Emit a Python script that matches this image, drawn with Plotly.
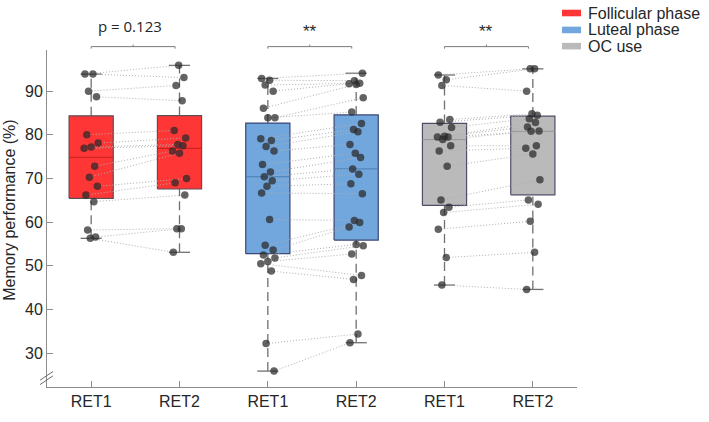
import numpy as np
import plotly.graph_objects as go

# ── Data (memory performance %, paired RET1 / RET2 per participant) ──────────
GROUPS = ["Follicular phase", "Luteal phase", "OC use"]
TICK_LABELS = ["RET1", "RET2", "RET1", "RET2", "RET1", "RET2"]

fol_ret1 = [93.9, 93.9, 90.0, 88.7, 80.0, 78.1, 77.2, 76.9, 72.8, 70.3, 68.2, 66.2,
            64.7, 58.2, 56.6, 56.3]
fol_ret2 = [95.9, 93.1, 91.3, 87.8, 81.0, 79.3, 77.8, 77.5, 76.3, 75.8, 70.0, 69.0,
            66.2, 58.5, 58.5, 53.1]
lut_ret1 = [92.9, 92.5, 91.4, 90.0, 86.1, 83.9, 83.9, 79.1, 78.7, 77.3, 76.3, 73.2,
            71.5, 70.4, 69.5, 68.2, 66.7, 60.6, 54.7, 53.6, 52.5, 51.8, 51.0, 50.5,
            48.8, 32.2, 25.9]
lut_ret2 = [94.1, 92.4, 91.8, 91.7, 91.5, 88.5, 85.2, 82.6, 81.2, 80.7, 77.8, 75.8,
            74.8, 72.2, 71.0, 68.8, 66.5, 60.4, 59.9, 58.9, 54.9, 54.6, 52.7, 47.8,
            46.9, 34.4, 32.4]
oc_ret1 = [93.7, 92.6, 91.3, 83.5, 82.9, 81.7, 79.7, 79.5, 79.5, 78.9, 77.5, 76.3,
           72.8, 65.1, 63.4, 62.2, 58.4, 51.9, 45.6]
oc_ret2 = [95.1, 95.1, 90.0, 84.8, 84.5, 83.7, 82.8, 81.8, 80.9, 80.8, 77.5, 76.9,
           75.6, 69.7, 65.1, 64.1, 60.2, 53.1, 44.6]

SIG_LABELS = ["p = 0.123", "**", "**"]

# ── Styling ───────────────────────────────────────────────────────────────────
FILL    = ["#FF3636", "#72A7DD", "#BABABA"]
EDGE    = ["#5C4F55", "#3A4675", "#4D4D68"]
MEDIAN  = ["#C81E1E", "#4C7DB4", "#969696"]
AXIS    = "#8C8C8C"
TEXT    = "#262626"
FONT    = "Liberation Sans, Arial, sans-serif"
HALF_W  = 0.25
CAP_W   = 0.12
JITTER  = [-0.07, 0.02, -0.03, 0.06, -0.05, 0.08, 0.0, -0.08, 0.04, -0.02, 0.07,
           -0.06, 0.03, -0.04, 0.05, -0.01]

L, R, T, B = 47, 132, 50, 24
W, H = 709, 422


def px_x(px):
    """page pixel -> paper x"""
    return (px - L) / (W - L - R)


def px_y(py):
    """page pixel -> paper y"""
    return (H - B - py) / (H - T - B)


def stats(vals):
    v = np.asarray(vals)
    q1, med, q3 = np.percentile(v, [25, 50, 75], method="hazen")
    iqr = q3 - q1
    lo = v[v >= q1 - 1.5 * iqr].min()
    hi = v[v <= q3 + 1.5 * iqr].max()
    return q1, med, q3, lo, hi


def jitter(n):
    return [JITTER[i % len(JITTER)] for i in range(n)]


series = [(fol_ret1, fol_ret2), (lut_ret1, lut_ret2), (oc_ret1, oc_ret2)]

fig = go.Figure()

# ── Boxes + whiskers ──────────────────────────────────────────────────────────
for g, pair in enumerate(series):
    for k, vals in enumerate(pair):
        c = 1 + 2 * g + k
        q1, med, q3, lo, hi = stats(vals)
        # dashed whiskers
        for a, b in [(q3, hi), (lo, q1)]:
            fig.add_trace(go.Scatter(
                x=[c, c], y=[a, b], mode="lines",
                line=dict(color="#707070", width=1.3, dash="9px,5px"),
                hoverinfo="skip", showlegend=False,
            ))
        # caps
        for yv in (lo, hi):
            fig.add_trace(go.Scatter(
                x=[c - CAP_W, c + CAP_W], y=[yv, yv], mode="lines",
                line=dict(color="#707070", width=1.3),
                hoverinfo="skip", showlegend=False,
            ))
        # box
        fig.add_trace(go.Scatter(
            x=[c - HALF_W, c + HALF_W, c + HALF_W, c - HALF_W, c - HALF_W],
            y=[q1, q1, q3, q3, q1],
            mode="lines", fill="toself", fillcolor=FILL[g],
            line=dict(color=EDGE[g], width=1.2),
            hoverinfo="skip", showlegend=False,
        ))
        fig.add_trace(go.Scatter(
            x=[c - HALF_W, c + HALF_W], y=[med, med], mode="lines",
            line=dict(color=MEDIAN[g], width=1),
            hoverinfo="skip", showlegend=False,
        ))

# ── Paired dotted lines + points ─────────────────────────────────────────────
for g, (r1, r2) in enumerate(series):
    c1, c2 = 1 + 2 * g, 2 + 2 * g
    j1 = jitter(len(r1))
    j2 = jitter(len(r2))[::-1]
    lx, ly = [], []
    for i in range(len(r1)):
        lx += [c1 + j1[i], c2 + j2[i], None]
        ly += [r1[i], r2[i], None]
    fig.add_trace(go.Scatter(
        x=lx, y=ly, mode="lines",
        line=dict(color="#AFAFAF", width=1, dash="1px,2px"),
        hoverinfo="skip", showlegend=False,
    ))
    fig.add_trace(go.Scatter(
        x=[c1 + d for d in j1] + [c2 + d for d in j2], y=r1 + r2,
        mode="markers",
        marker=dict(color="rgba(40,40,40,0.72)", size=7.5, line=dict(width=0)),
        showlegend=False,
    ))

# ── Significance brackets ────────────────────────────────────────────────────
shapes = []
annotations = []
yb = px_y(46.5)
for g, lab in enumerate(SIG_LABELS):
    c1, c2 = 1 + 2 * g, 1.95 + 2 * g
    line = dict(color="#7A7A7A", width=1)
    shapes.append(dict(type="line", xref="x", yref="paper", x0=c1, x1=c2,
                       y0=yb, y1=yb, line=line))
    for xe in (c1, c2):
        shapes.append(dict(type="line", xref="x", yref="paper", x0=xe, x1=xe,
                           y0=yb, y1=yb - 0.006, line=line))
    xm = (c1 + c2) / 2
    shapes.append(dict(type="line", xref="x", yref="paper", x0=xm, x1=xm,
                       y0=yb, y1=yb + 0.006, line=line))
    annotations.append(dict(
        x=xm - (0.03 if g == 0 else 0.0), y=px_y(25 if g == 0 else 31),
        xref="x", yref="paper", xanchor="center", yanchor="middle",
        text=lab, showarrow=False,
        font=dict(family="Open Sans, sans-serif" if g == 0 else FONT,
                  size=15 if g == 0 else 17, color=TEXT),
    ))

# ── Manual legend ─────────────────────────────────────────────────────────────
for i, name in enumerate(GROUPS):
    yc = [11.8, 29.3, 46.0][i]
    shapes.append(dict(type="rect", xref="paper", yref="paper",
                       x0=px_x(562), x1=px_x(581), y0=px_y(yc - 3.4), y1=px_y(yc + 3.4),
                       fillcolor=FILL[i], line=dict(width=0)))
    annotations.append(dict(x=px_x(586), y=px_y(yc), xref="paper", yref="paper",
                            text=name, showarrow=False, xanchor="left", yanchor="middle",
                            font=dict(family=FONT, size=16, color=TEXT)))

# ── Axis break marks ──────────────────────────────────────────────────────────
for dy in (0, 4.5):
    shapes.append(dict(type="line", xref="paper", yref="paper",
                       x0=px_x(40), y0=px_y(391 + dy), x1=px_x(53), y1=px_y(382 + dy),
                       line=dict(color="#6E6E6E", width=1)))

# y-axis title
annotations.append(dict(x=px_x(10), y=px_y(216), xref="paper", yref="paper",
                        xanchor="center", yanchor="middle",
                        text="Memory performance (%)", textangle=-90, showarrow=False,
                        font=dict(family=FONT, size=16, color=TEXT)))

fig.update_layout(
    width=W, height=H,
    margin=dict(l=L, r=R, t=T, b=B),
    paper_bgcolor="white", plot_bgcolor="white",
    font=dict(family=FONT, size=15, color=TEXT),
    showlegend=False,
    hovermode=False,
    shapes=shapes,
    annotations=annotations,
    xaxis=dict(range=[0.5, 6.5], tickvals=[1, 2, 3, 4, 5, 6], ticktext=TICK_LABELS,
               showline=True, linecolor=AXIS, linewidth=1, ticks="inside",
               ticklen=6, tickcolor=AXIS, showgrid=False, zeroline=False,
               tickfont=dict(size=16, color=TEXT)),
    yaxis=dict(range=[22.26, 99.42], tickvals=[30, 40, 50, 60, 70, 80, 90],
               showline=True, linecolor=AXIS, linewidth=1, ticks="inside",
               ticklen=6, tickcolor=AXIS, showgrid=False, zeroline=False,
               tickfont=dict(size=16, color=TEXT)),
)

# the page body has a default 8px margin; drop it so the figure fills the window
fig.write_html("out.html", config={"displayModeBar": False},
               post_script="document.body.style.margin = '0px';")
